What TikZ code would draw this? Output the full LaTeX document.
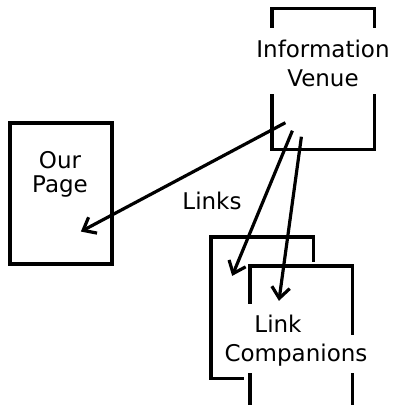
\documentclass[tikz,border=0pt]{standalone}
\usepackage{fontspec}
\setmainfont{DejaVu Sans}
\usetikzlibrary{arrows.meta,calc}
\begin{document}
\begin{tikzpicture}[x=1pt,y=-1pt,
  boxline/.style={line width=3.4pt,line cap=rect},
  frame/.style={inner sep=0pt,minimum width=102pt,minimum height=141pt},
  lbl/.style={font=\fontsize{23}{29}\selectfont,align=center,inner sep=0pt},
  link/.style={line width=3.2pt,-{Straight Barb[length=11pt,width=18pt,line width=3.2pt]},shorten >=1pt}]
\useasboundingbox (0,0) rectangle (394,405);
% nodes
\node[frame] (iv) at (323.3,79) {};
\node[frame,draw,line width=3.4pt] (op) at (61,193.5) {};
\node[frame] (lc1) at (262,307.5) {};
\node[frame] (lc2) at (301,336.5) {};
% information venue (broken sides)
\draw[boxline] ($(iv.north west)+(0,18)$) -- (iv.north west) -- (iv.north east) -- ($(iv.north east)+(0,18)$);
\draw[boxline] ($(iv.south west)+(0,-54)$) -- (iv.south west) -- (iv.south east) -- ($(iv.south east)+(0,-54)$);
% back companion
\draw[boxline] ($(lc1.south west)+(31,0)$) -- (lc1.south west) -- (lc1.north west) -- (lc1.north east) -- ($(lc1.north east)+(0,23)$);
% front companion
\draw[boxline] ($(lc2.north west)+(0,36)$) -- (lc2.north west) -- (lc2.north east) -- ($(lc2.north east)+(0,67)$);
\draw[boxline] ($(lc2.north west)+(0,109)$) -- ($(lc2.north west)+(0,145)$);
\draw[boxline] ($(lc2.north east)+(0,109)$) -- ($(lc2.north east)+(0,145)$);
% texts
\node[lbl] (ivt) at (323,63) {Information\\Venue};
\node[lbl,font=\fontsize{23}{24}\selectfont] (opt) at (60,174) {Our\\Page};
\node[lbl] (lt) at (212,201) {Links};
\node[lbl] (lct) at (296,341) {Link\hspace*{36pt}\\Companions};
% connectors
\draw[link] ($(iv.south west)+(13.3,-27)$) -- ($(op.center)+(19,38.5)$);
\draw[link] ($(iv.south west)+(20.3,-19)$) -- ($(lc1.north west)+(21,40)$);
\draw[link] ($(iv.south west)+(29.3,-13)$) -- ($(lc2.north west)+(29,36)$);
\end{tikzpicture}
\end{document}
